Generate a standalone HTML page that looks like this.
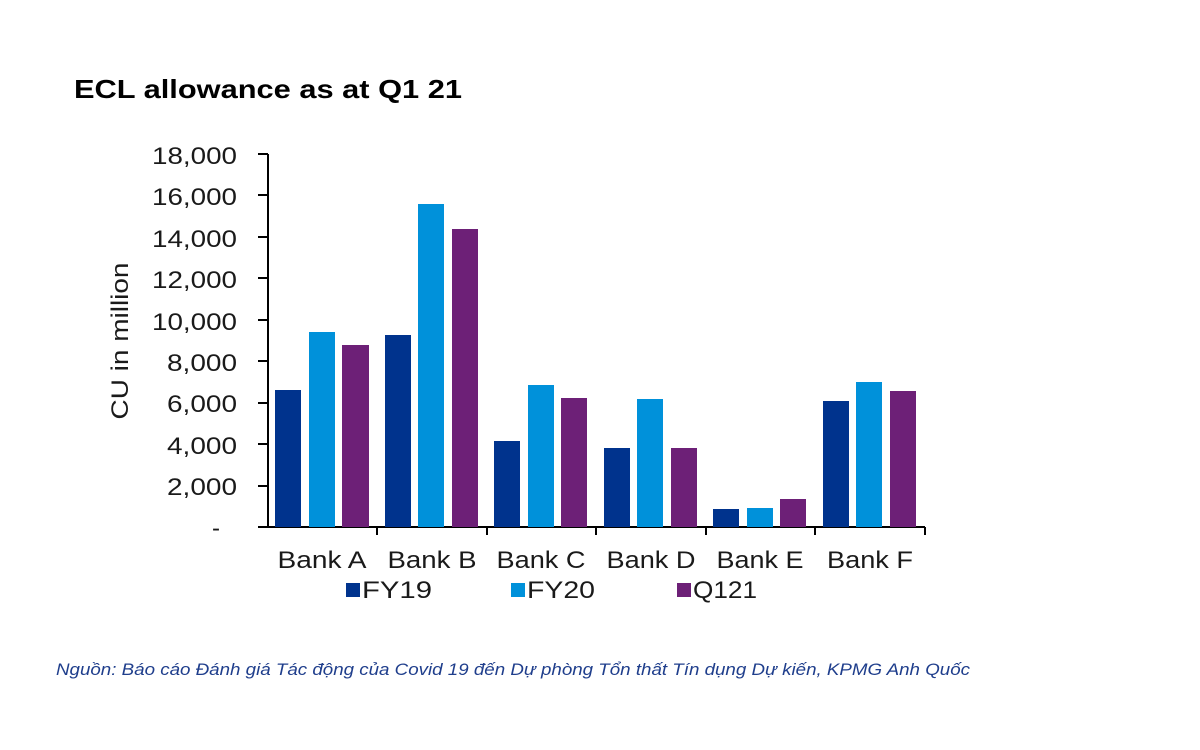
<!DOCTYPE html>
<html><head><meta charset="utf-8"><style>
body{margin:0;background:#fff;}
svg{display:block;font-family:"Liberation Sans",Arial,sans-serif;}
</style></head><body>
<svg width="1200" height="750" viewBox="0 0 1200 750">
<text x="74" y="98" font-size="26" font-weight="bold" fill="#000" textLength="388" lengthAdjust="spacingAndGlyphs">ECL allowance as at Q1 21</text>
<g font-size="24" fill="#1a1a1a" text-anchor="end">
<text x="237" y="164" textLength="85" lengthAdjust="spacingAndGlyphs">18,000</text>
<text x="237" y="205" textLength="85" lengthAdjust="spacingAndGlyphs">16,000</text>
<text x="237" y="247" textLength="85" lengthAdjust="spacingAndGlyphs">14,000</text>
<text x="237" y="288" textLength="85" lengthAdjust="spacingAndGlyphs">12,000</text>
<text x="237" y="330" textLength="85" lengthAdjust="spacingAndGlyphs">10,000</text>
<text x="237" y="371" textLength="70" lengthAdjust="spacingAndGlyphs">8,000</text>
<text x="237" y="412" textLength="70" lengthAdjust="spacingAndGlyphs">6,000</text>
<text x="237" y="454" textLength="70" lengthAdjust="spacingAndGlyphs">4,000</text>
<text x="237" y="495" textLength="70" lengthAdjust="spacingAndGlyphs">2,000</text>
<text x="220" y="536">-</text>
</g>
<text transform="translate(128,341) rotate(-90)" font-size="24" fill="#1a1a1a" text-anchor="middle" textLength="157" lengthAdjust="spacingAndGlyphs">CU in million</text>
<g stroke="#000" stroke-width="2">
<line x1="268" y1="154" x2="268" y2="527"/>
<line x1="258" y1="527" x2="925" y2="527"/>
<line x1="258" y1="154" x2="268" y2="154"/>
<line x1="258" y1="195" x2="268" y2="195"/>
<line x1="258" y1="237" x2="268" y2="237"/>
<line x1="258" y1="278" x2="268" y2="278"/>
<line x1="258" y1="320" x2="268" y2="320"/>
<line x1="258" y1="361" x2="268" y2="361"/>
<line x1="258" y1="403" x2="268" y2="403"/>
<line x1="258" y1="444" x2="268" y2="444"/>
<line x1="258" y1="486" x2="268" y2="486"/>
<line x1="377" y1="527" x2="377" y2="535"/>
<line x1="487" y1="527" x2="487" y2="535"/>
<line x1="596" y1="527" x2="596" y2="535"/>
<line x1="706" y1="527" x2="706" y2="535"/>
<line x1="815" y1="527" x2="815" y2="535"/>
<line x1="925" y1="527" x2="925" y2="535"/>
</g>
<g>
<rect x="275" y="390" width="26" height="137" fill="#00338D"/>
<rect x="309" y="332" width="26" height="195" fill="#0091DA"/>
<rect x="342" y="345" width="27" height="182" fill="#6D2077"/>
<rect x="385" y="335" width="26" height="192" fill="#00338D"/>
<rect x="418" y="204" width="26" height="323" fill="#0091DA"/>
<rect x="452" y="229" width="26" height="298" fill="#6D2077"/>
<rect x="494" y="441" width="26" height="86" fill="#00338D"/>
<rect x="528" y="385" width="26" height="142" fill="#0091DA"/>
<rect x="561" y="398" width="26" height="129" fill="#6D2077"/>
<rect x="604" y="448" width="26" height="79" fill="#00338D"/>
<rect x="637" y="399" width="26" height="128" fill="#0091DA"/>
<rect x="671" y="448" width="26" height="79" fill="#6D2077"/>
<rect x="713" y="509" width="26" height="18" fill="#00338D"/>
<rect x="747" y="508" width="26" height="19" fill="#0091DA"/>
<rect x="780" y="499" width="26" height="28" fill="#6D2077"/>
<rect x="823" y="401" width="26" height="126" fill="#00338D"/>
<rect x="856" y="382" width="26" height="145" fill="#0091DA"/>
<rect x="890" y="391" width="26" height="136" fill="#6D2077"/>
</g>
<g font-size="24" fill="#1a1a1a" text-anchor="middle">
<text x="322" y="568" textLength="89" lengthAdjust="spacingAndGlyphs">Bank A</text>
<text x="432" y="568" textLength="89" lengthAdjust="spacingAndGlyphs">Bank B</text>
<text x="541" y="568" textLength="89" lengthAdjust="spacingAndGlyphs">Bank C</text>
<text x="651" y="568" textLength="89" lengthAdjust="spacingAndGlyphs">Bank D</text>
<text x="760" y="568" textLength="87" lengthAdjust="spacingAndGlyphs">Bank E</text>
<text x="870" y="568" textLength="86" lengthAdjust="spacingAndGlyphs">Bank F</text>
</g>
<rect x="346" y="583" width="14" height="14" fill="#00338D"/>
<text x="362" y="598" font-size="24" fill="#1a1a1a" textLength="70" lengthAdjust="spacingAndGlyphs">FY19</text>
<rect x="511" y="583" width="14" height="14" fill="#0091DA"/>
<text x="527" y="598" font-size="24" fill="#1a1a1a" textLength="68" lengthAdjust="spacingAndGlyphs">FY20</text>
<rect x="677" y="583" width="14" height="14" fill="#6D2077"/>
<text x="693" y="598" font-size="24" fill="#1a1a1a" textLength="64" lengthAdjust="spacingAndGlyphs">Q121</text>
<text x="56" y="675" font-size="17" font-style="italic" fill="#1F3E8C" textLength="914" lengthAdjust="spacingAndGlyphs">Nguồn: Báo cáo Đánh giá Tác động của Covid 19 đến Dự phòng Tổn thất Tín dụng Dự kiến, KPMG Anh Quốc</text>
</svg>
</body></html>
